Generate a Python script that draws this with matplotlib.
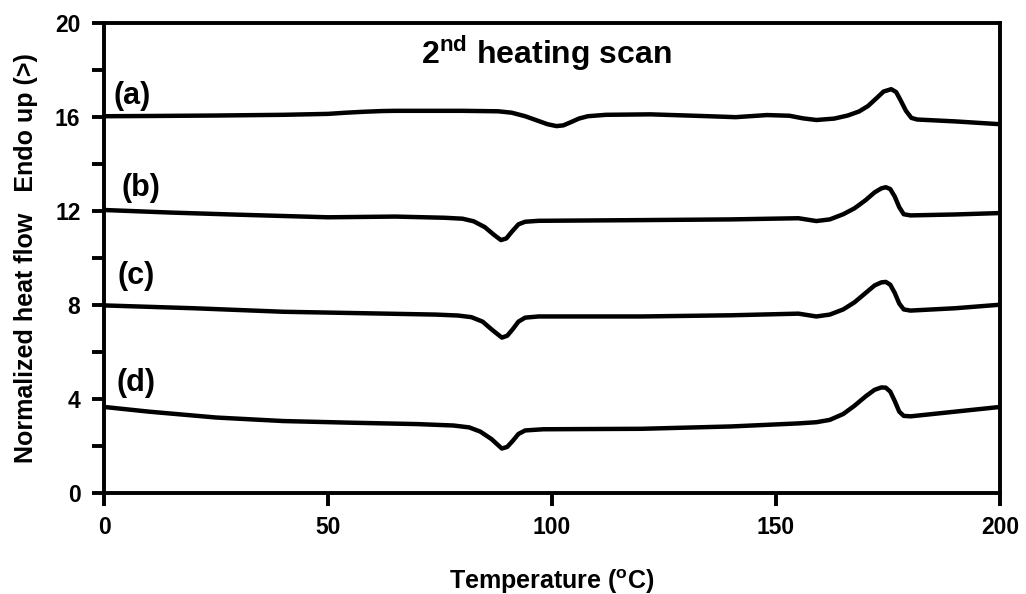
import matplotlib
matplotlib.use("Agg")
import matplotlib.pyplot as plt
from matplotlib.ticker import MultipleLocator

plt.rcParams['font.family'] = ['Liberation Sans', 'DejaVu Sans']
plt.rcParams['mathtext.fontset'] = 'custom'
plt.rcParams['mathtext.rm'] = 'Liberation Sans:bold'
plt.rcParams['mathtext.bf'] = 'Liberation Sans:bold'

# DSC traces (temperature in °C, normalized heat flow)
x_a = [0, 10, 25, 40, 50, 54, 58, 62, 65, 80, 88, 91, 94, 96.5, 99, 101, 102.5, 104,
       106, 108, 112, 122, 135, 141, 148, 153, 156, 159, 163, 166, 168.5, 170.5, 172.5,
       174, 175.7, 176.8, 177.8, 179, 180.2, 181.5, 190, 200]
y_a = [16.02, 16.03, 16.05, 16.08, 16.12, 16.17, 16.21, 16.24, 16.25, 16.25, 16.23,
       16.17, 16.02, 15.85, 15.68, 15.6, 15.63, 15.75, 15.92, 16.02, 16.08, 16.1, 16.02,
       15.98, 16.07, 16.04, 15.93, 15.86, 15.92, 16.05, 16.22, 16.45, 16.8, 17.07, 17.17,
       17.05, 16.7, 16.25, 15.95, 15.88, 15.8, 15.68]

x_b = [0, 15, 30, 50, 65, 76, 80, 82.5, 85, 87, 88.6, 89.8, 91, 92.5, 94, 97, 120, 140,
       155, 159, 162, 165, 167.5, 170, 172, 173.5, 174.5, 175.5, 176.5, 177.5, 178.5,
       180, 190, 200]
y_b = [12.03, 11.92, 11.83, 11.72, 11.75, 11.7, 11.66, 11.55, 11.3, 10.98, 10.75,
       10.82, 11.1, 11.42, 11.53, 11.57, 11.6, 11.63, 11.68, 11.56, 11.63, 11.85, 12.1,
       12.45, 12.78, 12.95, 13.0, 12.92, 12.6, 12.15, 11.85, 11.8, 11.84, 11.9]

x_c = [0, 20, 40, 60, 74, 79, 82, 84.5, 86.5, 88.8, 90, 91.2, 92.5, 94, 97, 120, 140,
       155, 159, 162, 165, 167.5, 170, 172, 173.5, 174.5, 175.5, 176.5, 177.5, 178.5,
       180, 190, 200]
y_c = [7.97, 7.85, 7.7, 7.63, 7.58, 7.54, 7.47, 7.28, 6.95, 6.6, 6.68, 6.95, 7.28,
       7.45, 7.5, 7.5, 7.55, 7.62, 7.5, 7.58, 7.8, 8.1, 8.5, 8.82, 8.95, 8.97, 8.85,
       8.5, 8.05, 7.8, 7.75, 7.85, 8.0]

x_d = [0, 10, 25, 40, 55, 70, 78, 81.5, 84, 86.5, 88.8, 90, 91.2, 92.5, 94, 98, 120,
       140, 155, 159, 162, 165, 167.5, 170, 172, 173.5, 174.5, 175.5, 176.5, 177.5,
       178.5, 180, 190, 200]
y_d = [3.65, 3.45, 3.2, 3.05, 2.98, 2.92, 2.86, 2.78, 2.6, 2.28, 1.88, 1.95, 2.2, 2.5,
       2.65, 2.7, 2.72, 2.82, 2.95, 3.0, 3.1, 3.35, 3.7, 4.1, 4.38, 4.48, 4.47, 4.3,
       3.9, 3.45, 3.27, 3.25, 3.45, 3.65]

labels = ['(a)', '(b)', '(c)', '(d)']
label_x = [6.3, 8.3, 7.1, 7.1]
label_y = [16.9, 12.97, 9.24, 4.65]

fig = plt.figure(figsize=(10.26, 5.94), dpi=100)
ax = fig.add_axes([0.1014, 0.1705, 0.8733, 0.7913])

for xs, ys in [(x_a, y_a), (x_b, y_b), (x_c, y_c), (x_d, y_d)]:
    ax.plot(xs, ys, color='black', linewidth=3.2, solid_joinstyle='round', solid_capstyle='round')

for lab, lx, ly in zip(labels, label_x, label_y):
    ax.text(lx, ly, lab, fontsize=22, fontweight='bold', ha='center', va='center')

ax.text(98.7, 18.7, '2$^{\\mathbf{nd}}$ heating scan', fontsize=23, fontweight='bold',
        ha='center', va='center')

ax.set_xlim(0, 200)
ax.set_ylim(0, 20)
ax.xaxis.set_major_locator(MultipleLocator(50))
ax.yaxis.set_major_locator(MultipleLocator(4))
ax.yaxis.set_minor_locator(MultipleLocator(2))

for s in ax.spines.values():
    s.set_linewidth(2.8)

ax.tick_params(which='both', direction='out', width=2.8, top=False, right=False)
ax.tick_params(which='major', length=9, labelsize=16.5, pad=8)
ax.tick_params(which='minor', length=9)
for t in ax.get_xticklabels() + ax.get_yticklabels():
    t.set_fontweight('bold')

ax.set_xlabel('Temperature ($^{\\mathrm{o}}$C)', fontsize=18, fontweight='bold', labelpad=20)
ax.set_ylabel('Normalized heat flow   Endo up (>)', fontsize=18, fontweight='bold', labelpad=12)

fig.savefig('out.png', dpi=100)
